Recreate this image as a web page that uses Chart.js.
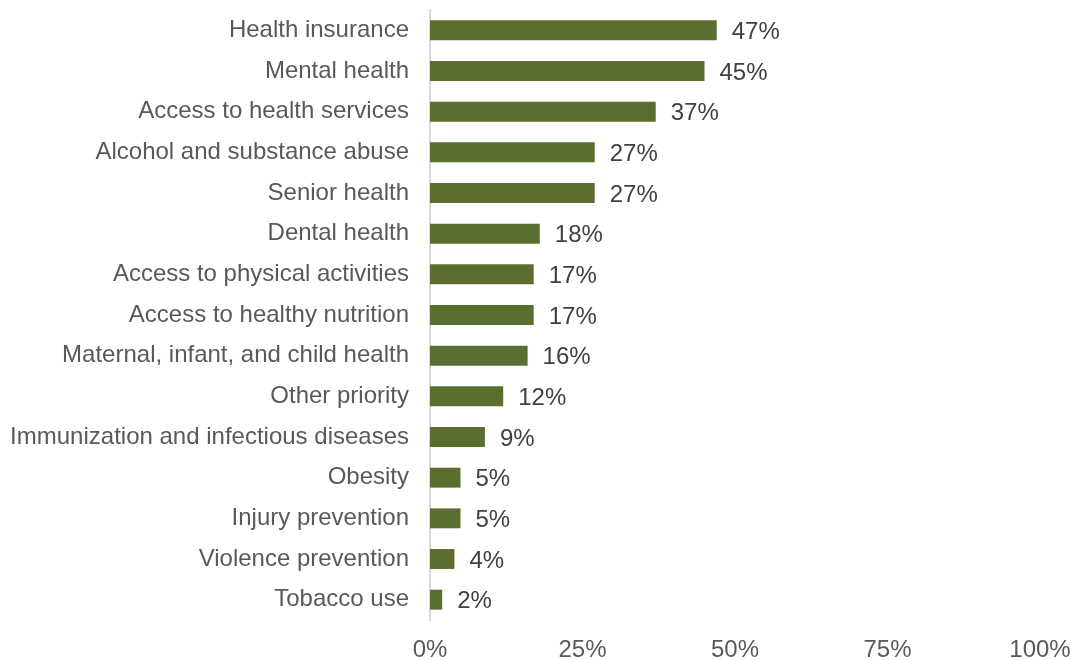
<!DOCTYPE html>
<html>
<head>
<meta charset="utf-8">
<script src="https://cdn.jsdelivr.net/npm/chart.js@4"></script>
<style>
    html, body { margin: 0; padding: 0; background: #ffffff; }
    #wrap { width: 1073px; height: 660px; position: relative; }
</style>
</head>
<body>
<div id="wrap"><canvas id="priorityChart"></canvas></div>
<script>
// Health priorities (share of respondents, %)
const categories = [
    'Health insurance',
    'Mental health',
    'Access to health services',
    'Alcohol and substance abuse',
    'Senior health',
    'Dental health',
    'Access to physical activities',
    'Access to healthy nutrition',
    'Maternal, infant, and child health',
    'Other priority',
    'Immunization and infectious diseases',
    'Obesity',
    'Injury prevention',
    'Violence prevention',
    'Tobacco use'
];
const percentValues = [47, 45, 37, 27, 27, 18, 17, 17, 16, 12, 9, 5, 5, 4, 2];
const axisTicks = [0, 25, 50, 75, 100];

const barColor = '#5a6e2f';
const labelGray = '#595959';
const fontFamily = '"Liberation Sans", Arial, sans-serif';

// Draws the "NN%" text just past the end of each bar
const valueLabels = {
    id: 'valueLabels',
    afterDatasetsDraw(chart) {
        const ctx = chart.ctx;
        const meta = chart.getDatasetMeta(0);
        ctx.save();
        ctx.font = '24px ' + fontFamily;
        ctx.fillStyle = '#404040';
        ctx.textAlign = 'left';
        ctx.textBaseline = 'middle';
        meta.data.forEach((bar, i) => {
            ctx.fillText(percentValues[i] + '%', bar.x + 15, bar.y + 2);
        });
        ctx.restore();
    }
};

const ctx = document.getElementById('priorityChart').getContext('2d');
new Chart(ctx, {
    type: 'bar',
    data: {
        labels: categories,
        datasets: [{
            data: percentValues,
            backgroundColor: barColor,
            borderWidth: 0,
            barPercentage: 0.49,
            categoryPercentage: 1.0
        }]
    },
    options: {
        indexAxis: 'y',
        responsive: true,
        maintainAspectRatio: false,
        animation: false,
        layout: { padding: { top: 10, right: 33, bottom: 0, left: 0 } },
        plugins: {
            legend: { display: false },
            tooltip: { enabled: false }
        },
        scales: {
            x: {
                min: 0,
                max: 100,
                afterBuildTicks: (axis) => {
                    axis.ticks = axisTicks.map(v => ({ value: v }));
                },
                afterFit: (axis) => {
                    axis.height = 40;
                    axis.paddingLeft = 0;
                    axis.paddingRight = 0;
                },
                grid: { display: false, drawTicks: false },
                border: { display: false },
                ticks: {
                    color: labelGray,
                    padding: 18,
                    maxRotation: 0,
                    font: { family: fontFamily, size: 24, lineHeight: 1.0 },
                    callback: (v) => v + '%'
                }
            },
            y: {
                afterFit: (axis) => {
                    axis.width = 430;
                    axis.paddingTop = 0;
                    axis.paddingBottom = 0;
                },
                grid: { display: false, drawTicks: false },
                border: { display: true, color: '#d9d9d9', width: 2 },
                ticks: {
                    color: labelGray,
                    padding: 21,
                    font: { family: fontFamily, size: 24 }
                }
            }
        }
    },
    plugins: [valueLabels]
});
</script>
</body>
</html>
